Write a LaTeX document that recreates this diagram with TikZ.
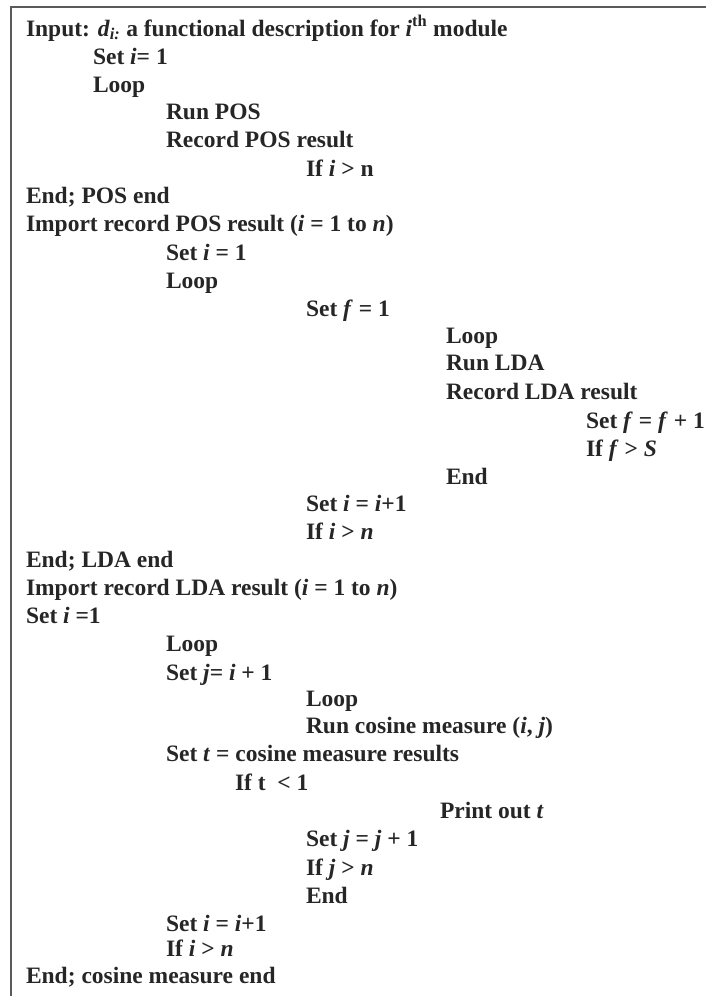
\documentclass[tikz,border=0pt]{standalone}
\usepackage{fontspec}
\setmainfont{Liberation Serif}
\definecolor{ink}{HTML}{262626}
\definecolor{framecol}{HTML}{5A5A5A}
\newcommand\vv[1]{\textit{#1}}
\begin{document}
\begin{tikzpicture}[x=1pt,y=-1pt,
  txt/.style={anchor=base west,inner sep=0pt,outer sep=0pt,text=ink,
    font=\fontsize{23.5}{27}\selectfont\bfseries},
  frameline/.style={draw=framecol,line width=2pt}]
\useasboundingbox (0,0) rectangle (706,996);
\draw[frameline] (11,996) -- (11,7) -- (706,7);
% x columns
\def\ca{26}\def\cb{93}\def\cc{166}\def\cd{306}\def\ce{446}\def\cf{586}
\node[txt] (l1)  at (\ca,36)    {Input: \vv{d}\textsubscript{\vv{i:}} a functional description for \vv{i}\textsuperscript{th} module};
\node[txt] (l2)  at (\cb,64)    {Set \vv{i}= 1};
\node[txt] (l3)  at (\cb,92)    {Loop};
\node[txt] (l4)  at (\cc,119.5) {Run POS};
\node[txt] (l5)  at (\cc,147.5) {Record POS result};
\node[txt] (l6)  at (\cd,176)   {If \vv{i} > n};
\node[txt] (l7)  at (\ca,203.5) {End; POS end};
\node[txt] (l8)  at (\ca,231.7) {Import record POS result (\vv{i} = 1 to \vv{n})};
\node[txt] (l9)  at (\cc,260)   {Set \vv{i} = 1};
\node[txt] (l10) at (\cc,288.3) {Loop};
\node[txt] (l11) at (\cd,316.7) {Set \vv{f} = 1};
\node[txt] (l12) at (\ce,343.3) {Loop};
\node[txt] (l13) at (\ce,370.7) {Run LDA};
\node[txt] (l14) at (\ce,399.3) {Record LDA result};
\node[txt] (l15) at (\cf,428)   {Set \vv{f} = \vv{f} + 1};
\node[txt] (l16) at (\cf,456)   {If \vv{f} > \vv{S}};
\node[txt] (l17) at (\ce,484)   {End};
\node[txt] (l18) at (\cd,511)   {Set \vv{i} = \vv{i}+1};
\node[txt] (l19) at (\cd,539.3) {If \vv{i} > \vv{n}};
\node[txt] (l20) at (\ca,567.7) {End; LDA end};
\node[txt] (l21) at (\ca,595)   {Import record LDA result (\vv{i} = 1 to \vv{n})};
\node[txt] (l22) at (\ca,623.5) {Set \vv{i} =1};
\node[txt] (l23) at (\cc,651.7) {Loop};
\node[txt] (l24) at (\cc,680)   {Set \vv{j}= \vv{i} + 1};
\node[txt] (l25) at (\cd,706)   {Loop};
\node[txt] (l26) at (\cd,733.3) {Run cosine measure (\vv{i}, \vv{j})};
\node[txt] (l27) at (\cc,761.7) {Set \vv{t} = cosine measure results};
\node[txt] (l28) at (235,790)   {If t\ \ {<} 1};
\node[txt] (l29) at (440,818.3) {Print out \vv{t}};
\node[txt] (l30) at (\cd,846.7) {Set \vv{j} = \vv{j} + 1};
\node[txt] (l31) at (\cd,875)   {If \vv{j} > \vv{n}};
\node[txt] (l32) at (\cd,903)   {End};
\node[txt] (l33) at (\cc,931)   {Set \vv{i} = \vv{i}+1};
\node[txt] (l34) at (\cc,956.7) {If \vv{i} > \vv{n}};
\node[txt] (l35) at (\ca,983)   {End; cosine measure end};
\end{tikzpicture}
\end{document}
